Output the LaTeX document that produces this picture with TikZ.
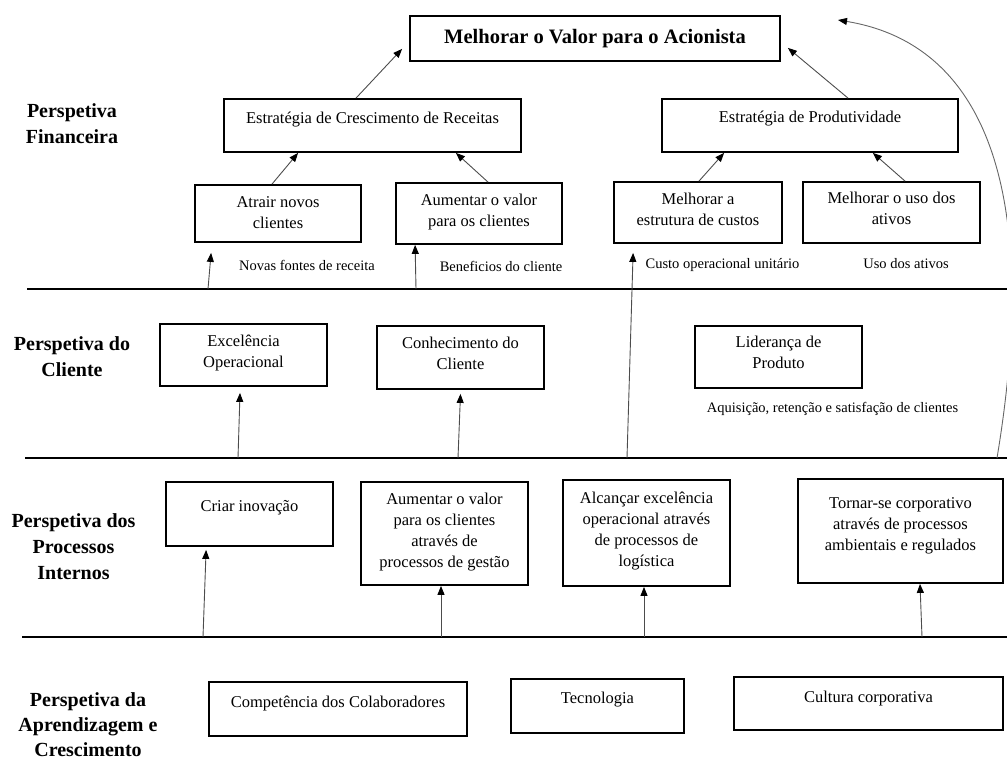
\documentclass[tikz,border=0pt]{standalone}
\usepackage{fontspec}
\setmainfont{Liberation Serif}
\usetikzlibrary{arrows.meta,positioning}

\begin{document}
\begin{tikzpicture}[
  x=1pt, y=-1pt,
  font=\fontsize{16.5}{21}\selectfont,
  box/.style n args={3}{
    draw, line width=1.8pt, inner sep=0pt,
    execute at begin node={\begin{minipage}[c][#2][t]{#1}\centering\vspace*{#3}},
    execute at end node={\end{minipage}}
  },
  topbox/.style={draw, line width=1.8pt, minimum width=370pt, minimum height=45pt,
    font=\fontsize{20.5}{24}\selectfont\bfseries},
  persp/.style={font=\fontsize{20}{26}\selectfont\bfseries, align=center},
  note/.style={font=\fontsize{14.5}{18}\selectfont},
  sep/.style={line width=2pt},
  link/.style={-{Triangle[length=9pt,width=7pt,color=black]}, draw=black!70, line width=0.9pt}
]
\useasboundingbox (0,0) rectangle (1007,762);

%  Perspective labels
\node[persp] (pfin) at (72,123.5) {Perspetiva\\Financeira};
\node[persp] (pcli) at (72,356.5) {Perspetiva do\\Cliente};
\node[persp] (ppro) at (73.5,546.5) {Perspetiva dos\\Processos\\Internos};
\node[persp, font=\fontsize{20}{25}\selectfont\bfseries] (papr) at (88,725) {Perspetiva da\\Aprendizagem e\\Crescimento};

%  Separators
\draw[sep] (27,289) -- (1007,289);
\draw[sep] (25,458) -- (1007,458);
\draw[sep] (22,637) -- (1007,637);

%  Financial
\node[topbox] (val) at (595,38.5) {Melhorar o Valor para o Acionista};
\node[box={297pt}{53pt}{13.5pt}] (crec) at (372.5,125.5) {Estratégia de Crescimento de Receitas};
\node[box={296pt}{53pt}{12.5pt}] (prod) at (810,125.5) {Estratégia de Produtividade};
\node[box={166pt}{57pt}{11.5pt}] (atrair) at (278,213.5) {Atrair novos\\clientes};
\node[box={166pt}{61pt}{11.5pt}] (aumval) at (479,213.5) {Aumentar o valor\\para os clientes};
\node[box={168pt}{61pt}{11.5pt}] (custos) at (698,212.5) {Melhorar a\\estrutura de custos};
\node[box={177pt}{61pt}{10.5pt}] (ativos) at (891.5,212.5) {Melhorar o uso dos\\ativos};

\node[note] (nfon) at (307,265) {Novas fontes de receita};
\node[note] (nben) at (501,266) {Beneficios do cliente};
\node[note] (ncus) at (722.5,265) {Custo operacional unitário};
\node[note] (nuso) at (906,264) {Uso dos ativos};

%  Customer
\node[box={167pt}{62pt}{11.5pt}] (excel) at (243.5,355) {Excelência\\Operacional};
\node[box={167pt}{63pt}{11.5pt}] (conhec) at (460.5,357.5) {Conhecimento do\\Cliente};
\node[box={167pt}{62pt}{10.5pt}] (lider) at (778.5,357) {Liderança de\\Produto};
\node[note] (naqu) at (832.5,409) {Aquisição, retenção e satisfação de clientes};

%  Internal processes
\node[box={167pt}{64pt}{18.5pt}] (criar) at (249.5,514) {Criar inovação};
\node[box={167pt}{103pt}{11.5pt}] (aumgest) at (444.5,533.5) {Aumentar o valor\\para os clientes\\através de\\processos de gestão};
\node[box={167pt}{106pt}{12.5pt}] (alcan) at (646.5,533) {Alcançar excelência\\operacional através\\de processos de\\logística};
\node[box={205pt}{104pt}{18.5pt}] (tornar) at (900.5,531) {Tornar-se corporativo\\através de processos\\ambientais e regulados};

%  Learning and growth
\node[box={258pt}{54pt}{14.5pt}] (compet) at (338,709) {Competência dos Colaboradores};
\node[box={173pt}{54pt}{13.5pt}] (tecno) at (597.5,706) {Tecnologia};
\node[box={269pt}{53pt}{14.5pt}] (cultura) at (868.5,703.5) {Cultura corporativa};

%  Arrow feet on the separators
\coordinate (f1) at (208,289);
\coordinate (f2) at (416,289);
\coordinate (f3) at (627,458);
\coordinate (f4) at (238,458);
\coordinate (f5) at (458,458);
\coordinate (f6) at (203,637);
\coordinate (f7) at (441,637);
\coordinate (f8) at (644,637);
\coordinate (f9) at (922,637);
\coordinate (f10) at (997,458);
\coordinate (top) at (838,20);

%  Links
\draw[link] ([xshift=-16.5pt]crec.north) -- ([xshift=-7pt,yshift=13pt]val.south west);
\draw[link] ([xshift=38pt]prod.north) -- ([xshift=7pt,yshift=14pt]val.south east);
\draw[link] ([xshift=-6pt]atrair.north) -- ([xshift=75pt]crec.south west);
\draw[link] ([xshift=9pt]aumval.north) -- ([xshift=-66pt]crec.south east);
\draw[link] ([xshift=1pt]custos.north) -- ([xshift=63pt]prod.south west);
\draw[link] ([xshift=13.5pt]ativos.north) -- ([xshift=-86pt]prod.south east);

\draw[link] (f1) -- ([xshift=17pt,yshift=-10pt]atrair.south west);
\draw[link] (f2) -- ([xshift=20pt]aumval.south west);
\draw[link] (f3) -- ([xshift=20pt,yshift=-9pt]custos.south west);
\draw[link] (f4) -- ([xshift=-3.5pt,yshift=-6pt]excel.south);
\draw[link] (f5) -- ([yshift=-4pt]conhec.south);
\draw[link] (f6) -- ([xshift=41pt,yshift=-3pt]criar.south west);
\draw[link] (f7) -- ([xshift=-3.5pt]aumgest.south);
\draw[link] (f8) -- ([xshift=-2.5pt]alcan.south);
\draw[link] (f9) -- ([xshift=19.5pt]tornar.south);
\draw[link, draw=black!60] (f10) .. controls (1040,200) and (990,45) .. (top);

\end{tikzpicture}
\end{document}
